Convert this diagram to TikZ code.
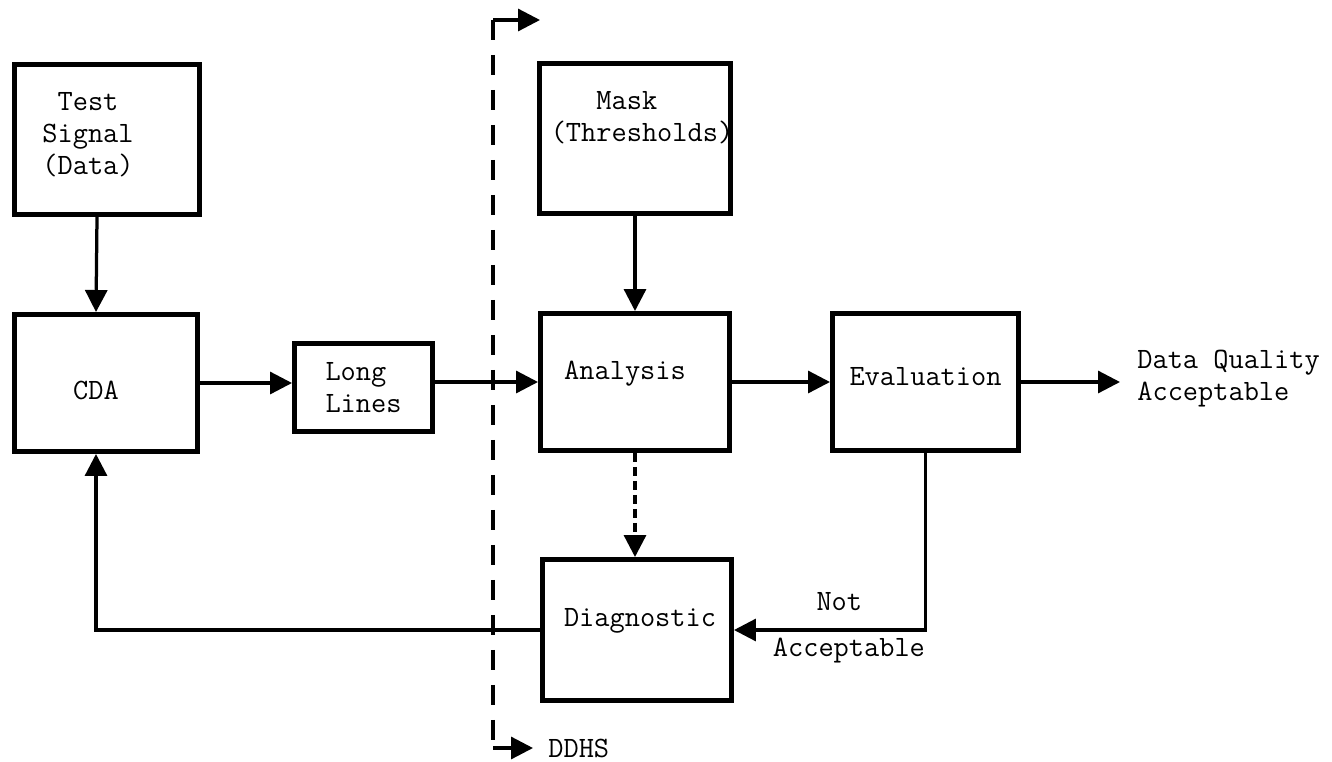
\documentclass[tikz,border=0pt]{standalone}
\usepackage{fontspec}
\usepackage{tikz}
\usetikzlibrary{arrows.meta}

\begin{document}
\begin{tikzpicture}[x=0.02cm, y=-0.02cm,
  txt/.style={font=\fontsize{16.8}{18.2}\selectfont\ttfamily, align=left},
  blk/.style={draw, line width=0.1cm, inner sep=0pt},
  flow/.style={line width=0.065cm, -{Triangle[length=0.44cm,width=0.44cm]}},
  split/.style={line width=0.07cm, dash pattern=on 0.4cm off 0.3cm},
  probe/.style={flow, dash pattern=on 0.18cm off 0.1cm}]
\useasboundingbox (0,0) rectangle (1332,761);

\draw (107,139.5) node (test) [blk, minimum width=3.7cm, minimum height=3cm,
  label={[txt, align=center, xshift=-0.38cm, yshift=0.1cm]center:Test\\Signal\\(Data)}] {};
\draw (106,383)   node (cda)  [blk, minimum width=3.66cm, minimum height=2.74cm,
  label={[txt, xshift=-0.2cm, yshift=-0.14cm]center:CDA}] {};
\draw (363.5,387.5) node (long) [blk, minimum width=2.76cm, minimum height=1.76cm,
  label={[txt]center:Long\\Lines}] {};

\draw (635,138.5) node (mask) [blk, minimum width=3.82cm, minimum height=3cm,
  label={[txt, xshift=0.14cm, yshift=0.41cm]center:~~~Mask\\(Thresholds)}] {};
\draw (635,382)   node (ana)  [blk, minimum width=3.78cm, minimum height=2.74cm,
  label={[txt, xshift=-0.2cm, yshift=0.16cm]center:Analysis}] {};
\draw (925.5,382) node (eval) [blk, minimum width=3.72cm, minimum height=2.74cm,
  label={[txt, yshift=0.1cm]center:Evaluation}] {};
\draw (637,630)   node (diag) [blk, minimum width=3.78cm, minimum height=2.82cm,
  label={[txt, xshift=0.06cm, yshift=0.18cm]center:Diagnostic}] {};

\draw (1120,379) node (dq)   [txt, anchor=west, inner xsep=0.34cm] {Data Quality\\Acceptable};
\draw (533,748)  node (ddhs) [txt, anchor=west, inner xsep=0.3cm, inner ysep=0pt] {DDHS};
\coordinate (top) at (493,20);
\coordinate (bot) at (493,748);
\coordinate (out) at (540,20);

\draw[flow] ([xshift=-0.2cm]test.south) -- ([xshift=-0.2cm]cda.north);
\draw[flow] (cda.east) -- (cda.east -| long.west);
\draw[flow] (long.east |- ana.west) -- (ana.west);
\draw[flow] (mask.south) -- (ana.north);
\draw[flow] (ana.east) -- (eval.west);
\draw[flow] (eval.east) -- (eval.east -| dq.west);
\draw[probe] (ana.south) -- (ana.south |- diag.north);
\draw[flow] (eval.south) -- (eval.south |- diag.east)
  -- node[txt, pos=0.45, above=0.24cm] {Not}
     node[txt, pos=0.4, below=0.02cm] {Acceptable} (diag.east);
\draw[flow] (diag.west) -| ([xshift=-0.2cm]cda.south);

\draw[split] (top) -- (bot);
\draw[flow] (top) -- (out);
\draw[flow] (bot) -- (ddhs.west);
\end{tikzpicture}
\end{document}
